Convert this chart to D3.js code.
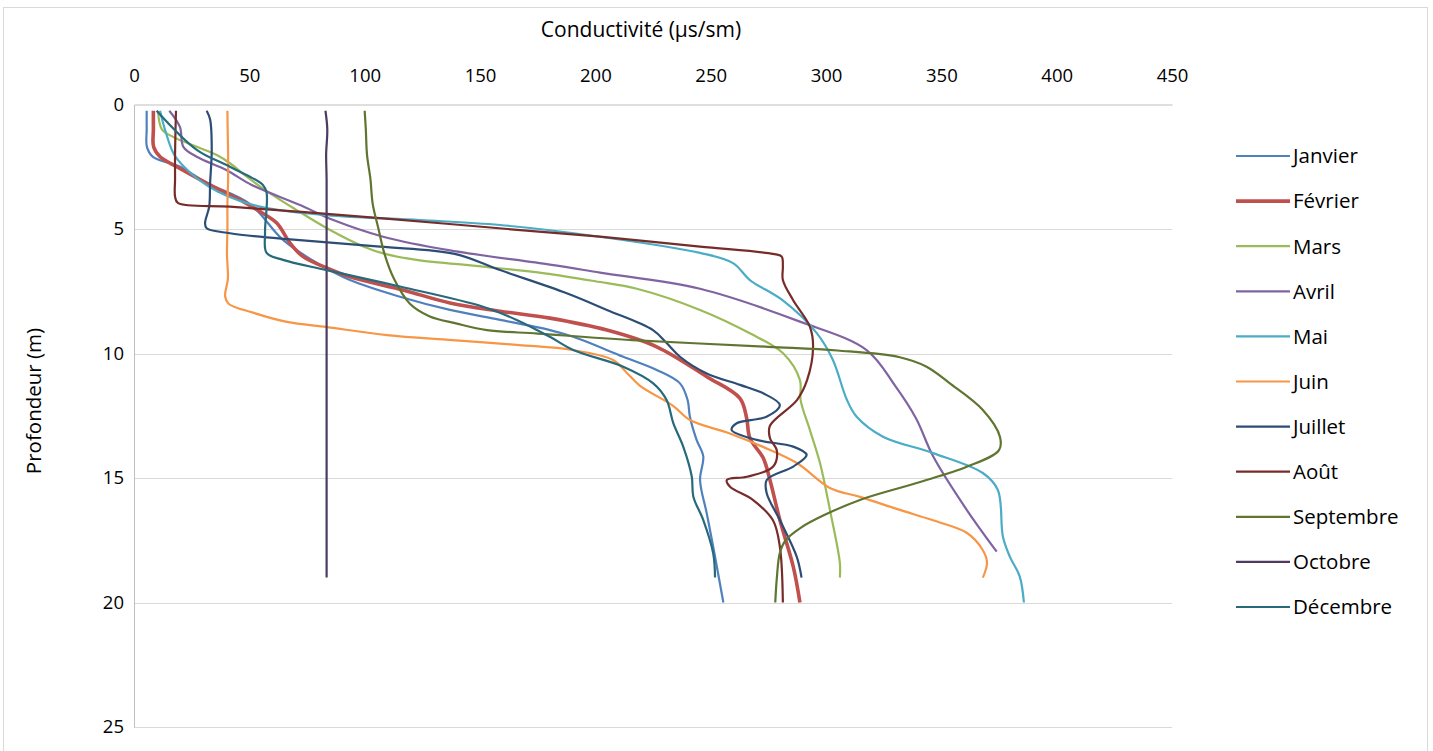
<!DOCTYPE html>
<html>
<head>
<meta charset="utf-8">
<script src="https://cdn.jsdelivr.net/npm/d3@7"></script>
<style>
  html, body { margin: 0; padding: 0; background: #fff; }
  svg { display: block; }
  text { font-family: "Open Sans", "Noto Sans", sans-serif; fill: #000; }
</style>
</head>
<body>
<svg id="chart" width="1433" height="751"></svg>
<script>
// ---- DATA: each series is a list of [depth (m), conductivity (µs/sm)] ----
const months = ["Janvier","Février","Mars","Avril","Mai","Juin","Juillet","Août","Septembre","Octobre","Décembre"];
const xTicks = [0,50,100,150,200,250,300,350,400,450];
const yTicks = [0,5,10,15,20,25];

const janvier = [[0.25,5.5],[1,5.5],[1.7,5.6],[2.1,8.2],[2.5,20],[3.15,31.5],[4.0,50.3],[5.44,64.6],[6.36,79.2],[7.05,93.6],[7.72,115.3],[8.25,137],[8.65,158.7],[9.06,180.3],[9.33,190.4],[10.13,212.1],[10.66,226.6],[11.2,236.7],[11.87,240],[12.54,241],[13.47,243.9],[14.14,246.8],[15.08,245.4],[16.42,248.3],[17.76,251.1],[20,255.5]];
const fevrier = [[0.25,8.4],[1,8.4],[1.7,8.5],[2.1,11.3],[2.5,18.5],[3.3,34.4],[3.83,46],[4.3,54.6],[4.76,61.9],[5.56,67.6],[6.11,73.3],[6.56,83.5],[6.92,93.6],[7.45,116.6],[7.97,137],[8.3,158.7],[8.58,180.3],[9.06,205],[9.73,226.6],[10.93,248.3],[11.8,262.7],[12.6,265.6],[13.4,267],[14.2,272.8],[15.08,275.7],[16.69,280],[18.56,285.8],[20,288.7]];
const mars = [[0.25,10.4],[1,12.1],[1.3,16.9],[1.7,27.2],[2.03,35.9],[2.36,41.6],[2.9,48.9],[3.57,59],[4.24,70.5],[5.04,85],[5.7,99.4],[6.0,108.8],[6.24,122.5],[6.51,151.4],[6.78,178],[7.1,200],[7.4,218],[8.25,245.4],[9.19,267],[10,281.5],[11.07,288.7],[11.87,289],[13.07,293],[14.4,297.4],[16.28,301.7],[18.4,306],[19,306]];
const avril = [[0.25,15.3],[0.9,19.9],[1.7,21.4],[2.1,27.2],[2.63,40],[3.23,51],[4.04,72],[4.64,86.4],[5.31,108],[5.86,137],[6.43,180.3],[6.75,202],[7.4,245.4],[8.72,288.7],[9.86,317.6],[11.3,330],[12.6,339],[14.14,346.5],[16.28,361],[17.96,374]];
const mai = [[0.25,11.3],[1,13.4],[2,17.3],[2.5,21.7],[3,27.7],[3.5,36.4],[4.1,54.6],[4.44,83.5],[4.64,124],[4.84,158.7],[5.31,201.9],[5.96,245.4],[6.37,259.7],[7.05,267],[7.85,281],[9.18,296],[10.26,303],[11.85,309],[12.54,313.3],[13.34,324.7],[14,346.4],[14.8,368],[15.48,374.5],[17.36,376.7],[18.16,379.7],[18.96,384],[20,385.8]];
const juin = [[0.25,40.5],[1,40.6],[2,40.8],[3,40.8],[4,40.5],[5,40.5],[6,40.3],[7,40.7],[7.7,39.5],[8,41],[8.36,51.6],[8.73,66.3],[8.94,83.7],[9.26,109.7],[9.46,138],[9.66,167],[9.86,190],[10.26,207.7],[10.78,213.7],[11.3,219.4],[12.1,233.7],[12.67,241],[13.2,258],[13.75,272.7],[14.4,287.4],[15.4,301.7],[15.76,314.7],[16.28,332],[16.7,346.4],[17.2,361],[17.9,368],[18.4,369.8],[19,368]];
const juillet = [[0.25,31.5],[0.6,33],[1.83,33.7],[3.15,33],[4.1,32.6],[4.77,30.8],[4.97,31.5],[5.17,41.6],[5.44,70.5],[5.71,106.6],[6.0,139],[6.65,158.7],[7.58,187.6],[8.25,205],[9.06,225],[9.59,231],[10.13,236.7],[10.8,248.3],[11.26,262.7],[11.6,272.8],[12.07,280],[12.54,274.2],[12.8,261.3],[13.07,259.1],[13.47,270],[13.74,285.8],[14.07,291.6],[14.54,285.8],[15.08,274.3],[15.61,274.3],[16.69,280],[18.16,287.3],[19,289.4]];
const aout = [[0.25,18.2],[1,18],[2,17.8],[3,17.8],[3.7,17.8],[3.95,19],[4.1,41.6],[4.3,70.7],[4.56,106.6],[5.0,162],[5.31,202],[5.71,245.4],[6.0,277],[6.11,280.8],[6.5,281.3],[7.05,281.3],[7.85,285.7],[8.92,293],[9.73,294.4],[11.07,291.8],[11.87,287.4],[12.9,275.7],[13.4,275.7],[13.9,278.7],[14.55,277],[14.95,265.7],[15.08,257],[15.35,258.4],[15.88,268.3],[16.7,277],[17.76,280],[20,281.3]];
const septembre = [[0.25,100],[1,100.5],[2,101],[3,102.5],[4,103.5],[5,106],[6,108.6],[7,112.7],[8,119.6],[8.5,128],[8.8,140],[9.06,153],[9.2,175],[9.46,216],[9.73,275],[9.88,305],[10.15,332],[10.53,343.6],[11.2,353.7],[12.27,368],[13.34,375.4],[13.88,375],[14.55,361],[15.2,339.3],[15.88,314.7],[16.5,299],[17,289],[17.5,282.5],[18,280],[19,278.7],[20,278]];
const octobre = [[0.25,83],[1,83.8],[2,83.3],[3,83.5],[5,83.5],[10,83.5],[15,83.5],[19,83.5]];
const decembre = [[0.25,9.8],[1.82,27.2],[2.5,41.6],[3.23,55.9],[3.55,57.5],[5.16,56.8],[5.96,57.5],[6.24,64.6],[6.65,83.5],[7.31,115.3],[8.12,151.3],[8.65,165.9],[9.33,180.3],[9.86,190.4],[10.53,212.1],[11.2,225.1],[11.87,230.9],[12.8,233.8],[13.74,238.1],[14.94,241.8],[15.75,242.5],[16.69,246.8],[18.02,251.1],[19,251.9]];

const seriesData = [janvier, fevrier, mars, avril, mai, juin, juillet, aout, septembre, octobre, decembre];
const colors = ["#4F81BD","#C0504D","#9BBB59","#8064A2","#4BACC6","#F79646","#2C4D75","#772C2A","#5F7530","#4D3B62","#276A7C"];
const widths = [2.2,3.6,2.2,2.2,2.2,2.2,2.2,2.2,2.2,2.2,2.2];

// ---- LAYOUT ----
const svg = d3.select("#chart");
const plot = {left: 134, top: 104.5, right: 1172, bottom: 727};

// outer chart border
svg.append("rect").attr("x", 3.5).attr("y", 7.5).attr("width", 1424).attr("height", 760)
  .attr("fill", "#fff").attr("stroke", "#D9D9D9").attr("stroke-width", 1);

const x = d3.scaleLinear().domain([0, 450]).range([plot.left, plot.right]);
const y = d3.scaleLinear().domain([0, 25]).range([plot.top, plot.bottom]);

// gridlines
svg.append("g").selectAll("line").data(yTicks.filter(t => t > 0)).join("line")
  .attr("x1", plot.left).attr("x2", plot.right)
  .attr("y1", d => Math.round(y(d)) + 0.5).attr("y2", d => Math.round(y(d)) + 0.5)
  .attr("stroke", "#D9D9D9").attr("stroke-width", 1);

// axes (top x axis, left y axis)
const xAxis = d3.axisTop(x).tickValues(xTicks).tickSize(0).tickPadding(23);
const gx = svg.append("g").attr("transform", `translate(0,${plot.top})`).call(xAxis);
gx.select(".domain").attr("stroke", "#BFBFBF");
gx.selectAll("text").style("font-size", "18.5px").style("font-family", '"Open Sans", sans-serif').attr("fill", "#000");

const yAxis = d3.axisLeft(y).tickValues(yTicks).tickSize(0).tickPadding(10);
const gy = svg.append("g").attr("transform", `translate(${plot.left},0)`).call(yAxis);
gy.select(".domain").attr("stroke", "#BFBFBF");
gy.selectAll("text").style("font-size", "18.5px").style("font-family", '"Open Sans", sans-serif').attr("fill", "#000");

// axis titles
svg.append("text").attr("x", 641).attr("y", 37).attr("text-anchor", "middle")
  .style("font-size", "21px").text("Conductivité (µs/sm)");
svg.append("text").attr("transform", `translate(41,401) rotate(-90)`)
  .attr("text-anchor", "middle").style("font-size", "20.5px").text("Profondeur (m)");

// lines
const line = d3.line().x(d => x(d[1])).y(d => y(d[0])).curve(d3.curveCatmullRom.alpha(0.5));
svg.append("g").selectAll("path").data(seriesData).join("path")
  .attr("d", d => line(d)).attr("fill", "none")
  .attr("stroke", (d, i) => colors[i]).attr("stroke-width", (d, i) => widths[i])
  .attr("stroke-linejoin", "round").attr("stroke-linecap", "butt");

// legend
const lg = svg.append("g").attr("transform", "translate(1236,156)");
const items = lg.selectAll("g").data(months).join("g").attr("transform", (d, i) => `translate(0,${i * 45.1})`);
items.append("line").attr("x1", 0).attr("x2", 54).attr("y1", 0).attr("y2", 0)
  .attr("stroke", (d, i) => colors[i]).attr("stroke-width", (d, i) => widths[i]);
items.append("text").attr("x", 57).attr("y", 0).attr("dy", "0.36em")
  .style("font-size", "20.5px").text(d => d);
</script>
</body>
</html>
